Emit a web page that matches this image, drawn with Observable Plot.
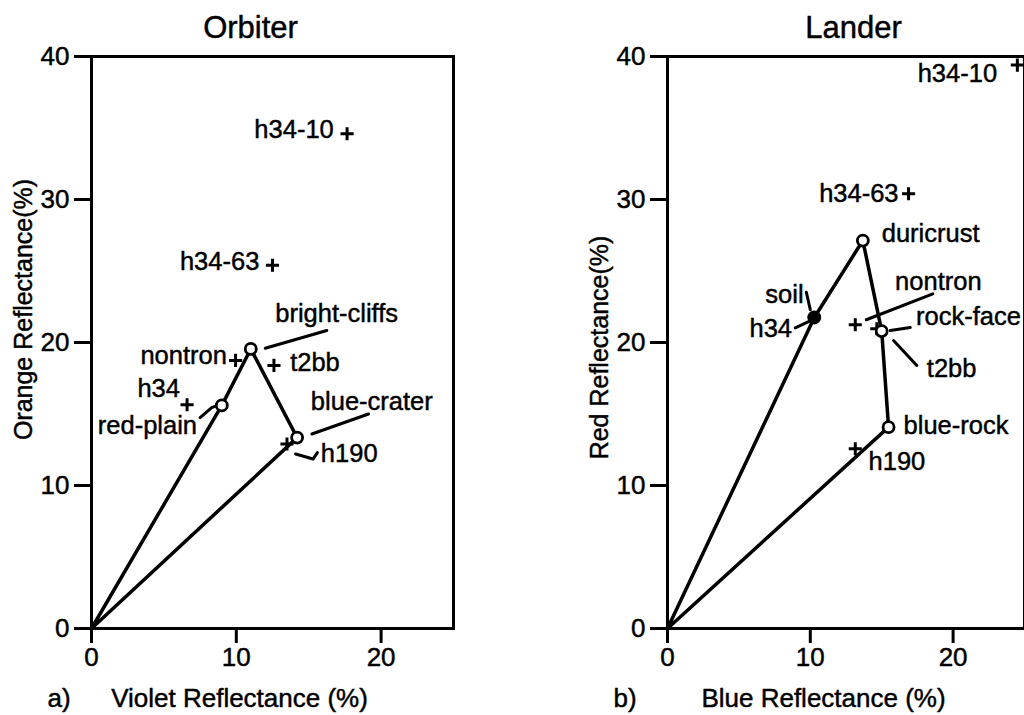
<!DOCTYPE html>
<html>
<head>
<meta charset="utf-8">
<script src="https://cdn.jsdelivr.net/npm/d3@7"></script>
<script src="https://cdn.jsdelivr.net/npm/@observablehq/plot@0.6"></script>
<style>
  html, body { margin: 0; padding: 0; background: white; overflow: hidden; }
  #wrap { position: relative; width: 1024px; height: 715px; }
  #left, #right { position: absolute; top: 0; }
  #left { left: 0; }
  #right { left: 560px; }
  svg { max-width: none !important; }
  svg text { stroke: black; stroke-width: 0.45px; }
</style>
</head>
<body>
<div id="wrap"><div id="left"></div><div id="right"></div></div>
<script>
// ---------- Orbiter (left) data ----------
const orbEndNames  = ["red-plain", "bright-cliffs", "blue-crater"];
const orbEndViolet = [9.0, 11.0, 14.2];
const orbEndOrange = [15.6, 19.55, 13.35];

const orbLabNames  = ["h34-10", "h34-63", "nontron", "t2bb", "h34", "h190"];
const orbLabViolet = [17.65, 12.5, 9.95, 12.6, 6.6, 13.5];
const orbLabOrange = [34.6, 25.4, 18.75, 18.4, 15.65, 12.9];

// label anchor points (data units)
const orbTextNames  = ["h34-10", "h34-63", "bright-cliffs", "nontron", "t2bb", "h34", "red-plain", "blue-crater", "h190"];
const orbTextX      = [16.73, 11.59, 12.69, 9.35, 13.72, 3.17, 7.29, 15.15, 15.84];
const orbTextY      = [34.27, 25.1, 21.4, 18.5, 18.0, 16.2, 13.6, 15.25, 11.63];
const orbTextAnchor = ["end", "end", "start", "end", "start", "start", "end", "start", "start"];

const orbLeaders = [
  {name: "bright-cliffs", xs: [12.0, 16.25], ys: [19.6, 20.84]},
  {name: "blue-crater",   xs: [15.22, 19.13], ys: [13.6, 15.0]},
  {name: "h190",          xs: [14.1, 15.3, 15.6], ys: [12.2, 11.85, 12.3]},
  {name: "red-plain",     xs: [7.5, 8.3, 8.7], ys: [14.75, 15.45, 15.6]}
];

// ---------- Lander (right) data ----------
const lanEndNames = ["soil", "duricrust", "rock-face", "blue-rock"];
const lanEndBlue  = [10.28, 13.68, 15.0, 15.48];
const lanEndRed   = [21.75, 27.13, 20.8, 14.08];
const lanEndFilled = [true, false, false, false];

const lanLabNames = ["h34-10", "h34-63", "nontron", "t2bb", "h34", "h190"];
const lanLabBlue  = [24.5, 16.88, 13.15, 14.66, 10.28, 13.15];
const lanLabRed   = [39.4, 30.4, 21.24, 20.96, 21.75, 12.57];

const lanTextNames  = ["h34-10", "h34-63", "duricrust", "nontron", "rock-face", "t2bb", "blue-rock", "h190", "soil", "h34"];
const lanTextX      = [23.08, 16.18, 15.0, 15.94, 17.4, 18.16, 16.53, 14.08, 9.53, 8.72];
const lanTextY      = [38.2, 29.86, 27.0, 23.64, 21.19, 17.57, 13.57, 11.05, 22.75, 20.37];
const lanTextAnchor = ["end", "end", "start", "start", "start", "start", "start", "start", "end", "end"];

const lanLeaders = [
  {name: "nontron",   xs: [13.92, 18.58], ys: [21.59, 23.4]},
  {name: "rock-face", xs: [15.6, 17.0], ys: [20.84, 21.05]},
  {name: "t2bb",      xs: [15.83, 17.46], ys: [20.14, 18.39]},
  {name: "soil",      xs: [9.72, 10.0], ys: [23.52, 22.29]},
  {name: "h34",       xs: [8.95, 9.95], ys: [21.03, 21.49]}
];

const xTicks = [0, 10, 20];
const yTicks = [0, 10, 20, 30, 40];

const FONT = "'Liberation Sans', Arial, Helvetica, sans-serif";

function buildPanel(cfg) {
  const ends = cfg.endNames.map((n, i) => ({name: n, x: cfg.endX[i], y: cfg.endY[i], filled: cfg.endFilled ? cfg.endFilled[i] : false}));
  const path = [{x: 0, y: 0}, ...ends.map(d => ({x: d.x, y: d.y})), {x: 0, y: 0}];
  const labs = cfg.labNames.map((n, i) => ({name: n, x: cfg.labX[i], y: cfg.labY[i]}));
  const texts = cfg.textNames.map((n, i) => ({name: n, x: cfg.textX[i], y: cfg.textY[i], anchor: cfg.textAnchor[i]}));
  const leaders = cfg.leaders.flatMap(l => l.xs.map((x, j) => ({name: l.name, x, y: l.ys[j]})));
  const fs = 25.5;
  return Plot.plot({
    width: cfg.width, height: 715,
    marginLeft: cfg.marginLeft, marginRight: cfg.marginRight, marginTop: 56, marginBottom: 87,
    x: {domain: [0, 25]},
    y: {domain: [0, 40]},
    style: {fontFamily: FONT, fontSize: fs + "px", background: "white", color: "black", overflow: "visible"},
    marks: [
      Plot.frame({stroke: "black", strokeWidth: 3}),
      Plot.axisX({ticks: xTicks, tickSize: 15, tickPadding: 4, strokeWidth: 3, label: null, fontSize: 26}),
      Plot.axisY({ticks: yTicks, tickSize: 17, tickPadding: 5, strokeWidth: 3, label: null, fontSize: 26}),
      Plot.line(path, {x: "x", y: "y", stroke: "black", strokeWidth: 3.5, curve: "linear"}),
      Plot.line(leaders, {x: "x", y: "y", z: "name", stroke: "black", strokeWidth: 3}),
      Plot.dot(labs, {x: "x", y: "y", symbol: "plus", r: 4.3, stroke: "black", strokeWidth: 3}),
      Plot.dot(ends, {x: "x", y: "y", r: 5.5, stroke: "black", strokeWidth: 2.8, fill: d => d.filled ? "black" : "white"}),
      Plot.text(texts.filter(d => d.anchor === "start"), {x: "x", y: "y", text: "name", textAnchor: "start", lineAnchor: "bottom", fontSize: fs}),
      Plot.text(texts.filter(d => d.anchor === "end"), {x: "x", y: "y", text: "name", textAnchor: "end", lineAnchor: "bottom", fontSize: fs}),
      // titles and axis titles
      Plot.text([cfg.title], {frameAnchor: "top-left", dx: cfg.titleDx, dy: -19, textAnchor: "middle", lineAnchor: "bottom", fontSize: 31}),
      Plot.text([cfg.xLabel], {frameAnchor: "bottom-left", dx: cfg.xLabelDx, dy: 78, textAnchor: "middle", lineAnchor: "bottom", fontSize: 26}),
      Plot.text([cfg.panel], {frameAnchor: "bottom-left", dx: cfg.panelDx, dy: 78, textAnchor: "start", lineAnchor: "bottom", fontSize: 26}),
      Plot.text([cfg.yLabel], {frameAnchor: "left", dx: cfg.yLabelDx, dy: cfg.yLabelDy, rotate: -90, textAnchor: "middle", lineAnchor: "middle", fontSize: 25})
    ]
  });
}

document.getElementById("left").appendChild(buildPanel({
  width: 480, marginLeft: 91, marginRight: 27,
  endNames: orbEndNames, endX: orbEndViolet, endY: orbEndOrange,
  labNames: orbLabNames, labX: orbLabViolet, labY: orbLabOrange,
  textNames: orbTextNames, textX: orbTextX, textY: orbTextY, textAnchor: orbTextAnchor,
  leaders: orbLeaders,
  title: "Orbiter", titleDx: 159,
  xLabel: "Violet Reflectance (%)", xLabelDx: 148,
  panel: "a)", panelDx: -44,
  yLabel: "Orange Reflectance(%)", yLabelDx: -68, yLabelDy: -33
}));

document.getElementById("right").appendChild(buildPanel({
  width: 466, marginLeft: 107, marginRight: 2,
  endNames: lanEndNames, endX: lanEndBlue, endY: lanEndRed, endFilled: lanEndFilled,
  labNames: lanLabNames, labX: lanLabBlue, labY: lanLabRed,
  textNames: lanTextNames, textX: lanTextX, textY: lanTextY, textAnchor: lanTextAnchor,
  leaders: lanLeaders,
  title: "Lander", titleDx: 186,
  xLabel: "Blue Reflectance (%)", xLabelDx: 156,
  panel: "b)", panelDx: -54,
  yLabel: "Red Reflectance(%)", yLabelDx: -68, yLabelDy: 5
}));
</script>
</body>
</html>
